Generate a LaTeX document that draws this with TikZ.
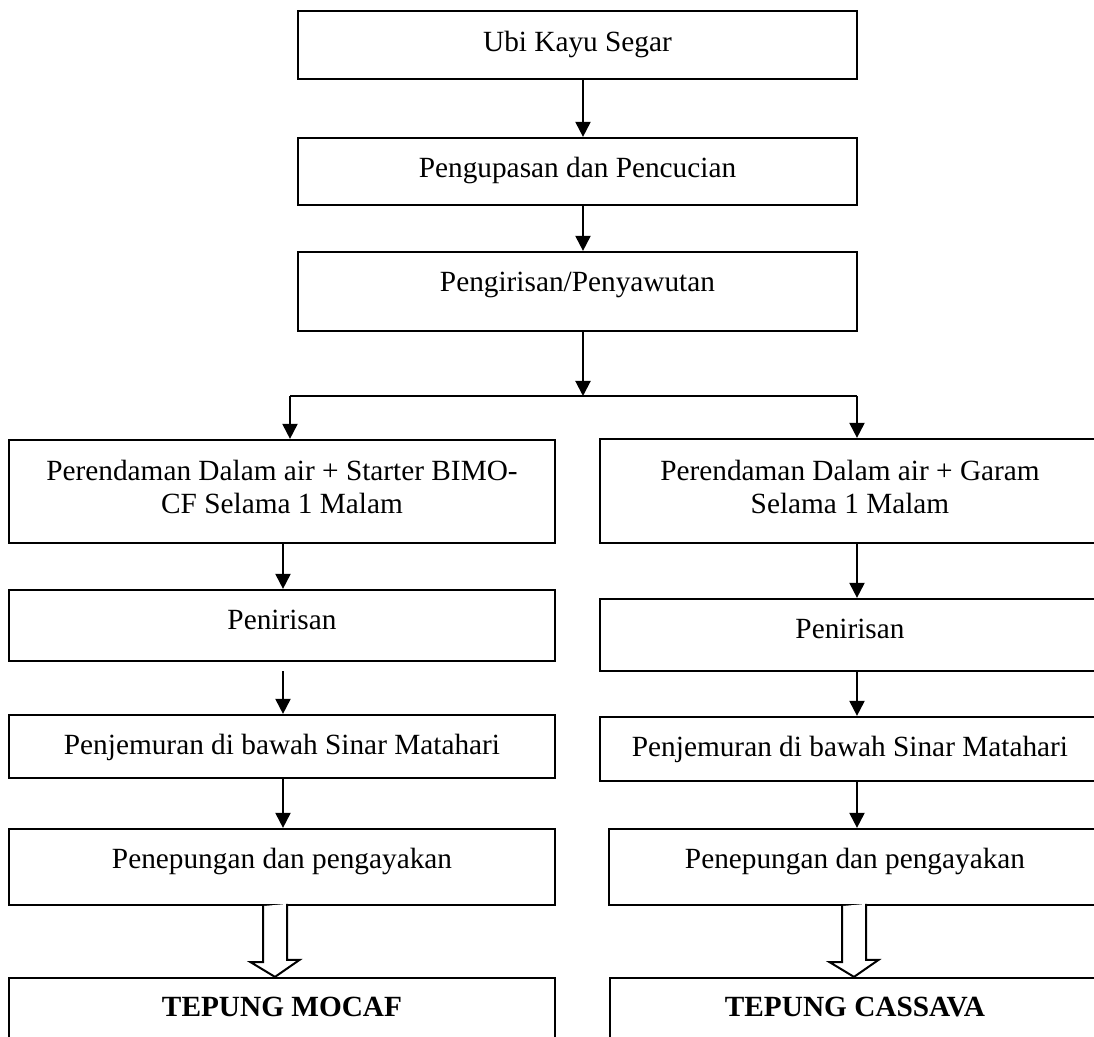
\documentclass[tikz,border=0pt]{standalone}
\usepackage{fontspec}
\setmainfont{Liberation Serif}
\usetikzlibrary{arrows.meta,fit,calc}
\begin{document}
\begin{tikzpicture}[x=0.5pt,y=-0.5pt,
 box/.style={draw,line width=1.1pt,inner sep=0pt},
 lbl/.style={font=\fontsize{14.65pt}{16.9pt}\selectfont, inner sep=0pt, anchor=base, align=center},
 arr/.style={line width=1pt,-{Triangle[length=7.5pt,width=7.5pt]}},
 plain/.style={line width=1pt},
 hollow/.style={draw,line width=1pt,fill=white,line join=miter}]
\useasboundingbox (0,0) rectangle (1094,1037);
\clip (0,0) rectangle (1094,1037);
% top column
\node[box, fit={(298,11) (857,79)}] (b1) {};
\node[box, fit={(298,138) (857,205)}] (b2) {};
\node[box, fit={(298,252) (857,331)}] (b3) {};
\node[lbl] (t1) at (577.5,52) {Ubi Kayu Segar};
\node[lbl] (t2) at (577.5,178) {Pengupasan dan Pencucian};
\node[lbl] (t3) at (577.5,292) {Pengirisan/Penyawutan};
\coordinate (hc) at (583,396);
\coordinate (hl) at (290,396);
\coordinate (hr) at (857,396);
\coordinate (lx) at (283,0);
\coordinate (la) at (275,0);
\coordinate (ra) at (854,0);
% left column
\node[box, fit={(9,440) (555,543)}] (l1) {};
\node[box, fit={(9,590) (555,661)}] (l2) {};
\node[box, fit={(9,715) (555,778)}] (l3) {};
\node[box, fit={(9,829) (555,905)}] (l4) {};
\node[box, fit={(9,978) (555,1050)}] (l5) {};
% right column
\node[box, fit={(600,439) (1100,543)}] (r1) {};
\node[box, fit={(600,599) (1100,671)}] (r2) {};
\node[box, fit={(600,717) (1100,781)}] (r3) {};
\node[box, fit={(609,829) (1101,905)}] (r4) {};
\node[box, fit={(610,978) (1101,1050)}] (r5) {};
% texts
\node[lbl] (lt1) at (282,514) {Perendaman Dalam air + Starter BIMO-\\CF Selama 1 Malam};
\node[lbl] (lt2) at (282,630) {Penirisan};
\node[lbl] (lt3) at (282,755) {Penjemuran di bawah Sinar Matahari};
\node[lbl] (lt4) at (282,869) {Penepungan dan pengayakan};
\node[lbl,font=\fontsize{14.65pt}{16.9pt}\selectfont\bfseries] (lt5) at (282,1016) {TEPUNG MOCAF};
\node[lbl] (rt1) at (850,514) {Perendaman Dalam air + Garam\\Selama 1 Malam};
\node[lbl] (rt2) at (850,639) {Penirisan};
\node[lbl] (rt3) at (850,757) {Penjemuran di bawah Sinar Matahari};
\node[lbl] (rt4) at (855,869) {Penepungan dan pengayakan};
\node[lbl,font=\fontsize{14.65pt}{16.9pt}\selectfont\bfseries] (rt5) at (855,1016) {TEPUNG CASSAVA};
% connectors top
\draw[arr] (b1.south -| hc) -- (b2.north -| hc);
\draw[arr] (b2.south -| hc) -- (b3.north -| hc);
\draw[arr] (b3.south -| hc) -- (hc);
\draw[plain] (hl) -- (hr);
\draw[arr] (hl) -- (hl |- l1.north);
\draw[arr] (hr) -- (hr |- r1.north);
% left connectors
\draw[arr] (l1.south -| lx) -- (l2.north -| lx);
\draw[arr] ($(l2.south -| lx)+(0,9)$) -- (l3.north -| lx);
\draw[arr] (l3.south -| lx) -- (l4.north -| lx);
% right connectors
\draw[arr] (r1.south -| hr) -- (r2.north -| hr);
\draw[arr] (r2.south -| hr) -- (r3.north -| hr);
\draw[arr] (r3.south -| hr) -- (r4.north -| hr);
% hollow arrows
\draw[hollow] (l4.south -| la) ++(-12,0) -- ++(0,56) -- ++(-12.5,0) -- (l5.north -| la) -- ++(24.5,-17) -- ++(-12.5,0) -- ++(0,-56);
\draw[hollow] (r4.south -| ra) ++(-12,0) -- ++(0,56) -- ++(-12.5,0) -- (r5.north -| ra) -- ++(24.5,-17) -- ++(-12.5,0) -- ++(0,-56);
\end{tikzpicture}
\end{document}
